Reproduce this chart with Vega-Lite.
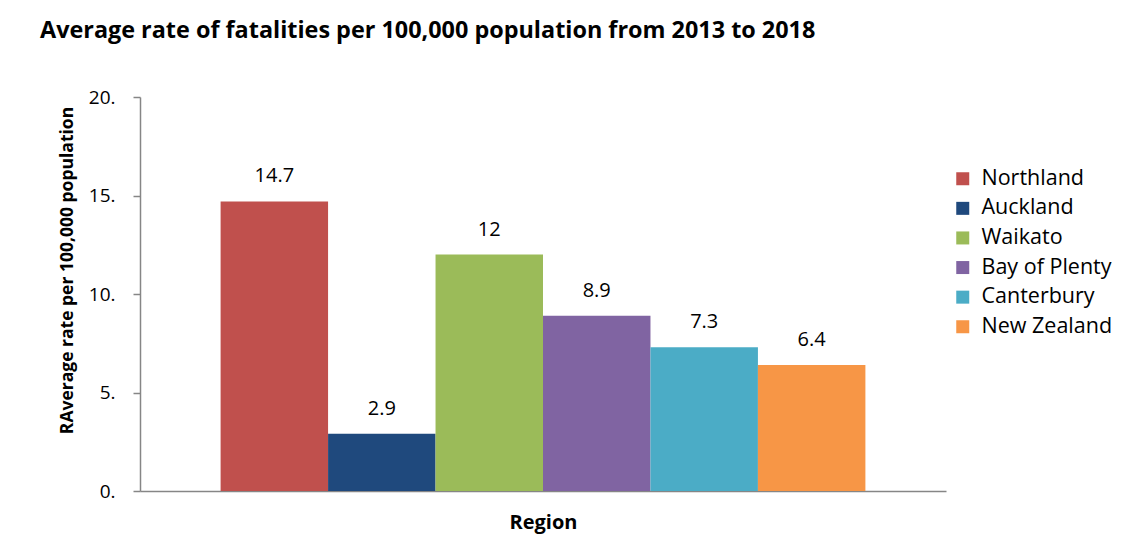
{
  "$schema": "https://vega.github.io/schema/vega-lite/v6.json",
  "autosize": "none",
  "width": 806,
  "height": 394,
  "padding": {"left": 140, "top": 97, "right": 185, "bottom": 44},
  "background": "white",
  "config": {
    "view": {"stroke": null},
    "font": "Open Sans",
    "text": {"font": "Open Sans"}
  },
  "title": {
    "text": "Average rate of fatalities per 100,000 population from 2013 to 2018",
    "anchor": "start",
    "frame": "group",
    "dx": -100,
    "offset": 45,
    "font": "Open Sans",
    "fontSize": 23.4,
    "fontWeight": "bold",
    "color": "#000000"
  },
  "data": {
    "values": [
      {"region": "Northland", "rate": 14.7},
      {"region": "Auckland", "rate": 2.9},
      {"region": "Waikato", "rate": 12},
      {"region": "Bay of Plenty", "rate": 8.9},
      {"region": "Canterbury", "rate": 7.3},
      {"region": "New Zealand", "rate": 6.4}
    ]
  },
  "encoding": {
    "x": {
      "field": "region",
      "type": "nominal",
      "sort": null,
      "scale": {"paddingInner": 0, "paddingOuter": 0.75},
      "axis": {
        "title": "Region",
        "labels": false,
        "ticks": false,
        "domainColor": "#868686",
        "domainWidth": 1.5,
        "titleFont": "Open Sans",
        "titleFontSize": 20,
        "titleFontWeight": "bold",
        "titleColor": "#000000",
        "titlePadding": 21
      }
    },
    "y": {
      "field": "rate",
      "type": "quantitative",
      "scale": {"domain": [0, 20], "nice": false},
      "axis": {
        "values": [0, 5, 10, 15, 20],
        "labelExpr": "datum.value + '.'",
        "grid": false,
        "domainColor": "#868686",
        "domainWidth": 1.5,
        "tickColor": "#868686",
        "tickWidth": 1.5,
        "tickSize": 7,
        "labelPadding": 18,
        "labelFont": "Open Sans",
        "labelFontSize": 19,
        "labelColor": "#000000",
        "title": "RAverage rate per 100,000  population",
        "titleFont": "Open Sans",
        "titleFontSize": 17.5,
        "titleFontWeight": "bold",
        "titleColor": "#000000",
        "titleAngle": -90,
        "titleAlign": "center",
        "titleBaseline": "middle",
        "titleX": -73,
        "titleY": 173
      }
    }
  },
  "layer": [
    {
      "mark": {"type": "bar"},
      "encoding": {
        "color": {
          "field": "region",
          "type": "nominal",
          "scale": {
            "domain": ["Northland", "Auckland", "Waikato", "Bay of Plenty", "Canterbury", "New Zealand"],
            "range": ["#C0504D", "#1F497D", "#9BBB59", "#8064A2", "#4BACC6", "#F79646"]
          },
          "legend": {
            "title": null,
            "orient": "none",
            "legendX": 812,
            "legendY": 71,
            "symbolType": "square",
            "symbolSize": 169,
            "symbolStrokeWidth": 0,
            "labelFont": "Open Sans",
            "labelFontSize": 21.5,
            "labelColor": "#000000",
            "labelOffset": 8,
            "rowPadding": 6.6,
            "labelLimit": 300
          }
        }
      }
    },
    {
      "mark": {"type": "text", "baseline": "bottom", "dy": -15, "font": "Open Sans", "fontSize": 20, "color": "#000000"},
      "encoding": {
        "text": {"field": "rate", "type": "quantitative"}
      }
    }
  ]
}
